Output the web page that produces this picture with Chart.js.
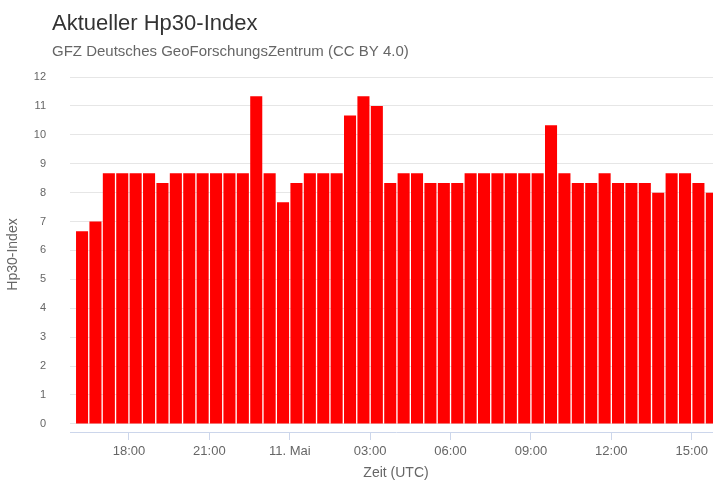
<!DOCTYPE html>
<html>
<head>
<meta charset="utf-8">
<script src="https://cdn.jsdelivr.net/npm/chart.js@4"></script>
<style>
html, body { margin: 0; padding: 0; background: #ffffff; overflow: hidden; }
#wrap { position: relative; width: 722px; height: 482px; }
</style>
</head>
<body>
<div id="wrap"><canvas id="c"></canvas></div>
<script>
// ---- data ----
const chartTitle = 'Aktueller Hp30-Index';
const chartSubtitle = 'GFZ Deutsches GeoForschungsZentrum (CC BY 4.0)';
const yAxisTitle = 'Hp30-Index';
const xAxisTitle = 'Zeit (UTC)';
const monthName = 'Mai';

// start of each 30-minute Hp30 interval (UTC)
const intervalStarts = [
  '2024-05-10 16:00','2024-05-10 16:30','2024-05-10 17:00','2024-05-10 17:30',
  '2024-05-10 18:00','2024-05-10 18:30','2024-05-10 19:00','2024-05-10 19:30',
  '2024-05-10 20:00','2024-05-10 20:30','2024-05-10 21:00','2024-05-10 21:30',
  '2024-05-10 22:00','2024-05-10 22:30','2024-05-10 23:00','2024-05-10 23:30',
  '2024-05-11 00:00','2024-05-11 00:30','2024-05-11 01:00','2024-05-11 01:30',
  '2024-05-11 02:00','2024-05-11 02:30','2024-05-11 03:00','2024-05-11 03:30',
  '2024-05-11 04:00','2024-05-11 04:30','2024-05-11 05:00','2024-05-11 05:30',
  '2024-05-11 06:00','2024-05-11 06:30','2024-05-11 07:00','2024-05-11 07:30',
  '2024-05-11 08:00','2024-05-11 08:30','2024-05-11 09:00','2024-05-11 09:30',
  '2024-05-11 10:00','2024-05-11 10:30','2024-05-11 11:00','2024-05-11 11:30',
  '2024-05-11 12:00','2024-05-11 12:30','2024-05-11 13:00','2024-05-11 13:30',
  '2024-05-11 14:00','2024-05-11 14:30','2024-05-11 15:00','2024-05-11 15:30'
];

const hp30 = [
  6.667, 7.0, 8.667, 8.667, 8.667, 8.667, 8.333, 8.667,
  8.667, 8.667, 8.667, 8.667, 8.667, 11.333, 8.667, 7.667,
  8.333, 8.667, 8.667, 8.667, 10.667, 11.333, 11.0, 8.333,
  8.667, 8.667, 8.333, 8.333, 8.333, 8.667, 8.667, 8.667,
  8.667, 8.667, 8.667, 10.333, 8.667, 8.333, 8.333, 8.667,
  8.333, 8.333, 8.333, 8.0, 8.667, 8.667, 8.333, 8.0
];

// x tick positions (hours after 10 May 00:00 UTC) and y ticks
const xTickHours = [18, 21, 24, 27, 30, 33, 36, 39];
const yTicks = [0, 1, 2, 3, 4, 5, 6, 7, 8, 9, 10, 11, 12];

// ---- helpers ----
const startDay = 10;
function toHours(s) {
  const d = parseInt(s.slice(8, 10), 10);
  const hh = parseInt(s.slice(11, 13), 10);
  const mm = parseInt(s.slice(14, 16), 10);
  return (d - startDay) * 24 + hh + mm / 60;
}
// each bar is centred on the middle of its 30-minute interval
const points = intervalStarts.map((t, i) => ({ x: toHours(t) + 0.25, y: hp30[i] }));

function fmtTick(v) {
  if (v % 24 === 0) return (startDay + v / 24) + '. ' + monthName;
  const h = ((v % 24) + 24) % 24;
  return (h < 10 ? '0' : '') + h + ':00';
}

const FONT = "'Liberation Sans', Arial, Helvetica, sans-serif";

const shiftTitles = {
  id: 'shiftTitles',
  afterLayout(chart) {
    chart.boxes.forEach(b => {
      if (b.position === 'top' && b.options && typeof b.options.text === 'string' && b.options.text.length) {
        b.left = 52;
      }
    });
  }
};

new Chart(document.getElementById('c'), {
  type: 'bar',
  data: {
    datasets: [{
      label: yAxisTitle,
      data: points,
      backgroundColor: '#ff0000',
      borderWidth: 0,
      barPercentage: 0.9,
      categoryPercentage: 1.0
    }]
  },
  options: {
    responsive: true,
    maintainAspectRatio: false,
    animation: false,
    layout: { padding: { left: 0, right: 0, top: 0, bottom: 0 } },
    plugins: {
      legend: { display: false },
      tooltip: { enabled: false },
      title: {
        display: true,
        text: chartTitle,
        align: 'start',
        color: '#333333',
        font: { family: FONT, size: 22, weight: 'normal' },
        padding: { top: 10.8, bottom: 0 }
      },
      subtitle: {
        display: true,
        text: chartSubtitle,
        align: 'start',
        color: '#666666',
        font: { family: FONT, size: 15, weight: 'normal' },
        padding: { top: 5.8, bottom: 16 }
      }
    },
    scales: {
      x: {
        type: 'linear',
        offset: false,
        min: 15.8,
        max: 40.13,
        afterBuildTicks(scale) {
          scale.ticks = xTickHours.map(v => ({ value: v }));
        },
        afterFit(scale) { scale.height = 50; },
        ticks: {
          autoSkip: false,
          maxRotation: 0,
          color: '#666666',
          padding: 3.7,
          font: { family: FONT, size: 13 },
          callback: (v) => fmtTick(v)
        },
        grid: {
          display: true,
          offset: false,
          drawOnChartArea: false,
          drawTicks: true,
          tickLength: 8,
          color: '#ccd6eb'
        },
        border: { display: true, color: '#ccd6eb', width: 1 },
        title: {
          display: true,
          text: xAxisTitle,
          color: '#666666',
          font: { family: FONT, size: 14 },
          padding: { top: 4.3, bottom: 0 }
        }
      },
      y: {
        min: -0.28,
        max: 12,
        afterBuildTicks(scale) {
          scale.ticks = yTicks.map(v => ({ value: v }));
        },
        afterFit(scale) { scale.width = 70; },
        ticks: {
          color: '#666666',
          padding: 24,
          font: { family: FONT, size: 11 }
        },
        grid: {
          color: '#e6e6e6',
          drawTicks: false,
          lineWidth: 1
        },
        border: { display: false },
        title: {
          display: true,
          text: yAxisTitle,
          color: '#666666',
          font: { family: FONT, size: 14 },
          padding: { top: 4.6, bottom: 0 }
        }
      }
    }
  },
  plugins: [shiftTitles]
});
</script>
</body>
</html>
